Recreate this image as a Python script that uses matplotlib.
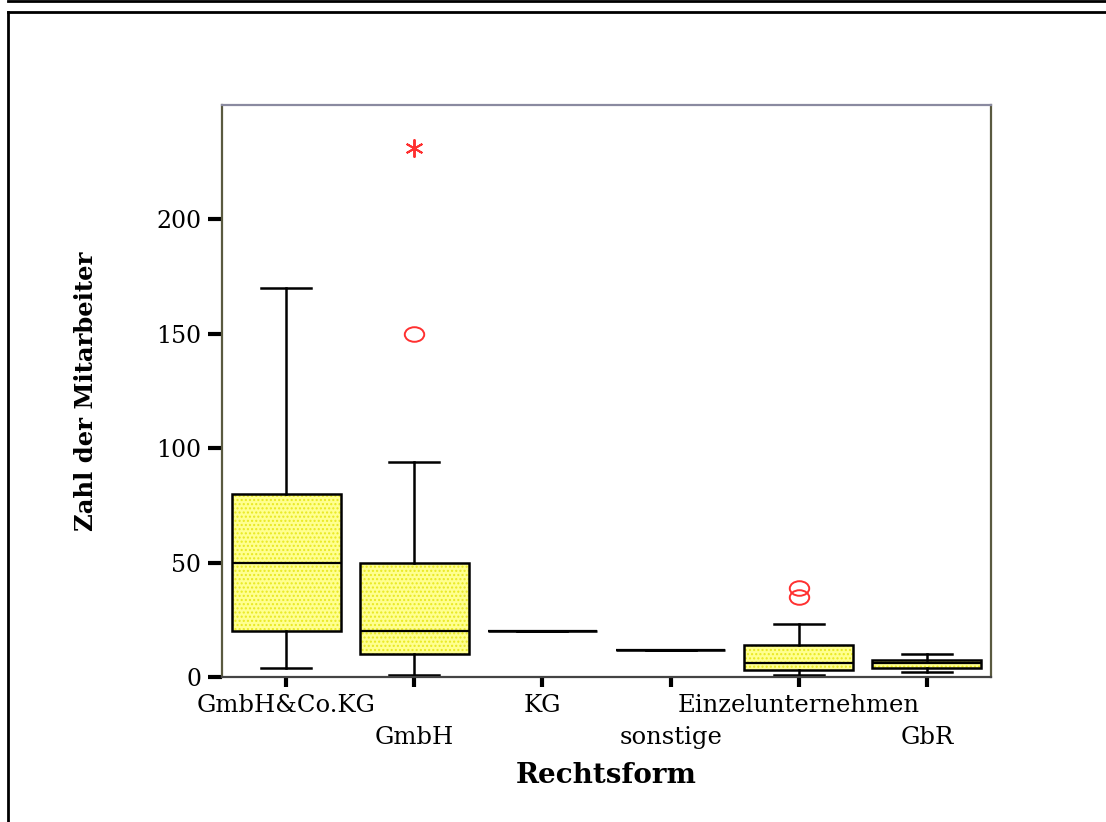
import matplotlib
matplotlib.use("Agg")
import matplotlib.pyplot as plt
from matplotlib.lines import Line2D
from matplotlib.path import Path
from matplotlib.patches import PathPatch
import numpy as np

# ---- data ----
categories = ["GmbH&Co.KG", "GmbH", "KG", "sonstige", "Einzelunternehmen", "GbR"]
q1 = [20, 10, 20, 12, 3, 4]
medians = [50, 20, 20, 12, 6, 6]
q3 = [80, 50, 20, 12, 14, 7.5]
whisker_low = [4, 1, 20, 12, 1, 2]
whisker_high = [170, 94, 20, 12, 23, 10]
# outliers (circles) and extreme values (asterisks)
outlier_cat = [2, 5, 5]
outlier_val = [150, 35, 39]
extreme_cat = [2]
extreme_val = [231]
y_ticks = [0, 50, 100, 150, 200]

plt.rcParams["hatch.linewidth"] = 1.0

W, H = 1106, 822
fig = plt.figure(figsize=(W / 100, H / 100), dpi=100)
ax = fig.add_axes([222 / W, 1 - 677 / H, (991 - 222) / W, (677 - 105) / H])

stats = []
for i, name in enumerate(categories):
    stats.append(dict(label=name, q1=q1[i], med=medians[i], q3=q3[i],
                      whislo=whisker_low[i], whishi=whisker_high[i], fliers=[]))

positions = list(range(1, len(categories) + 1))
bp = ax.bxp(stats, positions=positions, widths=0.85, capwidths=0.39,
            patch_artist=True, showfliers=False,
            boxprops=dict(facecolor="#ffff90", edgecolor="none", linewidth=0),
            medianprops=dict(color="black", linewidth=1.6),
            whiskerprops=dict(color="black", linewidth=1.8),
            capprops=dict(color="black", linewidth=1.8))

# dotted texture and black outline on top of the fill
for box in bp["boxes"]:
    box.set_zorder(1.5)
    p = box.get_path()
    ax.add_patch(PathPatch(p, facecolor="none", edgecolor="#e8e820", linewidth=0,
                           hatch="....", zorder=1.7))
    ax.add_patch(PathPatch(p, facecolor="none", edgecolor="black", linewidth=1.8,
                           zorder=2.1))

# slightly flattened circle marker like the original
uc = Path.unit_circle()
ellipse = Path(uc.vertices * np.array([1.0, 0.75]), uc.codes)

ax.plot(outlier_cat, outlier_val, linestyle="none", marker=ellipse, markersize=14,
        markerfacecolor="none", markeredgecolor="#ff3030", markeredgewidth=1.4)
ax.plot(extreme_cat, extreme_val, linestyle="none", marker=(6, 2, 0), markersize=13,
        color="#ff3030", markeredgewidth=1.4)

ax.set_xlim(0.5, 6.5)
ax.set_ylim(0, 250)
ax.set_yticks(y_ticks)
ax.set_yticklabels([str(v) for v in y_ticks], family="DejaVu Serif", fontsize=17)

# alternating two-row category labels: odd ones as major, even ones as minor ticks
major_pos = positions[0::2]
minor_pos = positions[1::2]
ax.set_xticks(major_pos)
ax.set_xticklabels(categories[0::2], family="DejaVu Serif", fontsize=17.5)
ax.set_xticks(minor_pos, minor=True)
ax.set_xticklabels(categories[1::2], minor=True, family="DejaVu Serif", fontsize=17.5)
ax.tick_params(axis="y", length=10, width=3, pad=5, direction="out")
ax.tick_params(axis="x", which="major", length=7, width=3, pad=5, direction="out")
ax.tick_params(axis="x", which="minor", length=7, width=3, pad=28, direction="out")

ax.spines["top"].set_color("#8a8aa0")
ax.spines["right"].set_color("#5a5a40")
ax.spines["left"].set_color("#5a5a40")
ax.spines["bottom"].set_color("#444444")
for s in ax.spines.values():
    s.set_linewidth(1.6)

ax.set_ylabel("Zahl der Mitarbeiter", family="DejaVu Serif", fontweight="bold",
              fontsize=17.5)
ax.set_xlabel("Rechtsform", family="DejaVu Serif", fontweight="bold",
              fontsize=20)
ax.yaxis.set_label_coords(-(222 - 98) / 769, 0.5)
ax.xaxis.set_label_coords(0.5, -(762 - 677) / 572)

# outer frame lines
def fx(px):
    return px / W
def fy(py):
    return 1 - py / H
fig.add_artist(Line2D([fx(8), fx(W)], [fy(1), fy(1)], color="black", linewidth=2))
fig.add_artist(Line2D([fx(8), fx(W)], [fy(12.5), fy(12.5)], color="black", linewidth=2))
fig.add_artist(Line2D([fx(8), fx(8)], [fy(12.5), fy(H)], color="black", linewidth=2))

fig.savefig("out.png", dpi=100)
